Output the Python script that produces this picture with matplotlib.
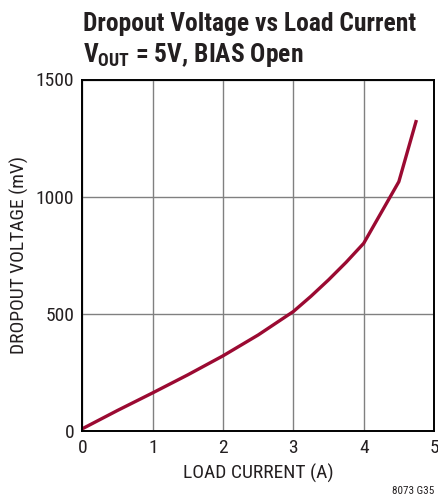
import matplotlib
matplotlib.use("Agg")
import matplotlib.pyplot as plt

# data
load_current = [0, 0.5, 1.0, 1.5, 2.0, 2.5, 3.0, 3.25, 3.5, 3.75, 4.0, 4.5, 4.75]
dropout_mv = [10, 88, 163, 240, 321, 410, 510, 575, 645, 720, 801, 1064, 1327]
x_ticks = [0, 1, 2, 3, 4, 5]
y_ticks = [0, 500, 1000, 1500]

FAM = ['Roboto Condensed', 'Liberation Sans Narrow', 'Archivo Narrow', 'DejaVu Sans']
plt.rcParams['font.family'] = FAM
plt.rcParams['font.stretch'] = 'condensed'
plt.rcParams['mathtext.default'] = 'regular'

fig = plt.figure(figsize=(4.39, 4.99), dpi=100)
ax = fig.add_axes([82.5/439, 1 - 431/499, (434-82.5)/439, (431-79.5)/499])
ax.plot(load_current, dropout_mv, color='#9B0A32', lw=2.4, solid_capstyle='butt')
ax.set_xlim(0, 5)
ax.set_ylim(0, 1500)
ax.set_xticks(x_ticks)
ax.set_yticks(y_ticks)
ax.grid(True, color='#808080', lw=1.0)
ax.set_axisbelow(True)
for s in ax.spines.values():
    s.set_linewidth(1.4)
    s.set_color('black')
ax.tick_params(length=0, labelsize=14, pad=6, colors='#231f20')
ax.set_xlabel('LOAD CURRENT (A)', fontsize=14, labelpad=5, color='#231f20')
ax.set_ylabel('DROPOUT VOLTAGE (mV)', fontsize=14, labelpad=5, color='#231f20')

t1 = fig.text(83/439, 1 - 31/499, 'Dropout Voltage vs Load Current', fontsize=17,
              fontweight='bold', ha='left', va='baseline', color='#231f20')
t2 = fig.text(83/439, 1 - 62/499, r'V$_{\mathregular{OUT}}$ = 5V, BIAS Open', fontsize=17,
              fontweight='bold', ha='left', va='baseline', color='#231f20')
fig.text(434/439, 1 - 494/499, '8073 G35', fontsize=8, ha='right', va='baseline', color='#231f20')

# fit title width to the reference (~333 px)
r = fig.canvas.get_renderer()
w = t1.get_window_extent(r).width
if w > 0:
    fs = 17 * 333 / w
    fs = min(fs, 19)
    t1.set_fontsize(fs)
    t2.set_fontsize(fs)

fig.savefig('out.png', dpi=100)
